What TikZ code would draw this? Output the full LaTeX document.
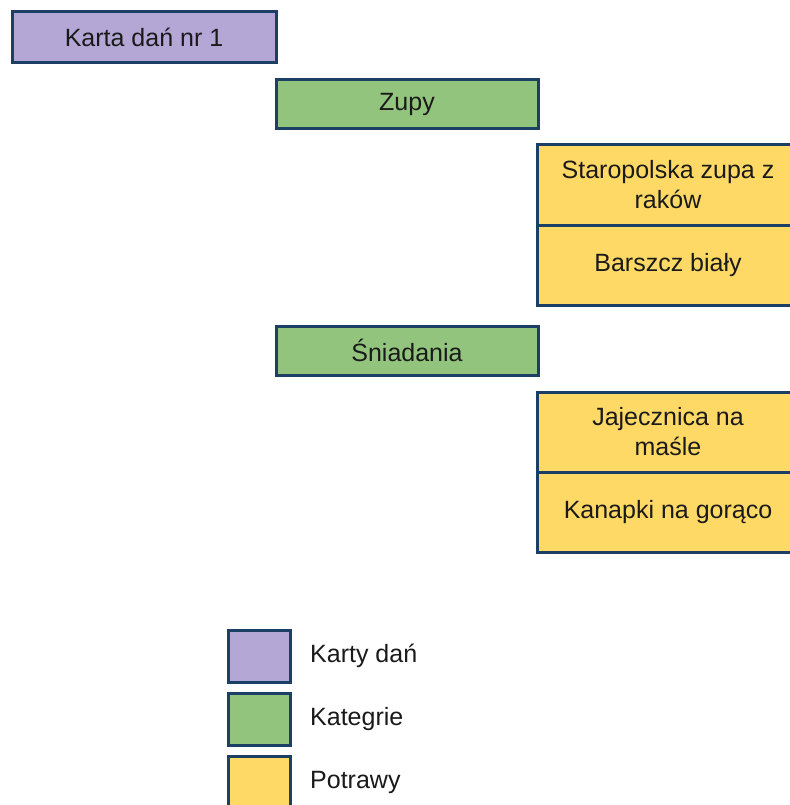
\documentclass[tikz,border=0pt]{standalone}
\usepackage{fontspec}
\setmainfont{Liberation Sans}
\usepackage{tikz}
\usetikzlibrary{positioning}
\definecolor{edge}{HTML}{1C3F66}
\definecolor{kartaFill}{HTML}{B4A7D6}
\definecolor{katFill}{HTML}{93C47D}
\definecolor{dishFill}{HTML}{FFD966}
\definecolor{ink}{HTML}{1A1A1A}

\begin{document}
\begin{tikzpicture}[x=1pt,y=-1pt,
  box/.style={draw=edge,line width=3pt,inner sep=0pt,outer sep=0pt,align=center,text=ink,font=\fontsize{25}{30}\selectfont},
  karta/.style={box,fill=kartaFill,minimum width=264pt,minimum height=51pt},
  kat/.style={box,fill=katFill,minimum width=262pt,minimum height=49pt},
  dish/.style={box,fill=dishFill,minimum width=262pt,minimum height=80pt},
  key/.style={box,minimum width=62pt,minimum height=52pt},
  keytext/.style={inner sep=0pt,text=ink,font=\fontsize{25}{30}\selectfont}]
\useasboundingbox[fill=white] (0,0) rectangle (789,805);
% menu card and categories
\node[karta] (karta) at (144,37.5) {Karta dań nr 1};
\node[kat] (zupy) at (407,104.5) {Zupy};
\node[kat] (sniadania) at (407,350.5) {Śniadania};
% dishes
\node[dish] (staro) at (668,185) {Staropolska zupa z\\raków};
\node[dish,below=0pt of staro] (barszcz) {Barszcz biały};
\node[dish] (jajecznica) at (668,432) {Jajecznica na\\maśle};
\node[dish,below=0pt of jajecznica] (kanapki) {Kanapki na gorąco};
% legend
\node[key,fill=kartaFill] (keyKarta) at (259,656) {};
\node[key,fill=katFill] (keyKat) at (259,719) {};
\node[key,fill=dishFill] (keyDish) at (259,782) {};
\node[keytext,right=20pt of keyKarta] (txtKarta) {Karty dań};
\node[keytext,right=20pt of keyKat] (txtKat) {Kategrie};
\node[keytext,right=20pt of keyDish] (txtDish) {Potrawy};
\end{tikzpicture}
\end{document}
